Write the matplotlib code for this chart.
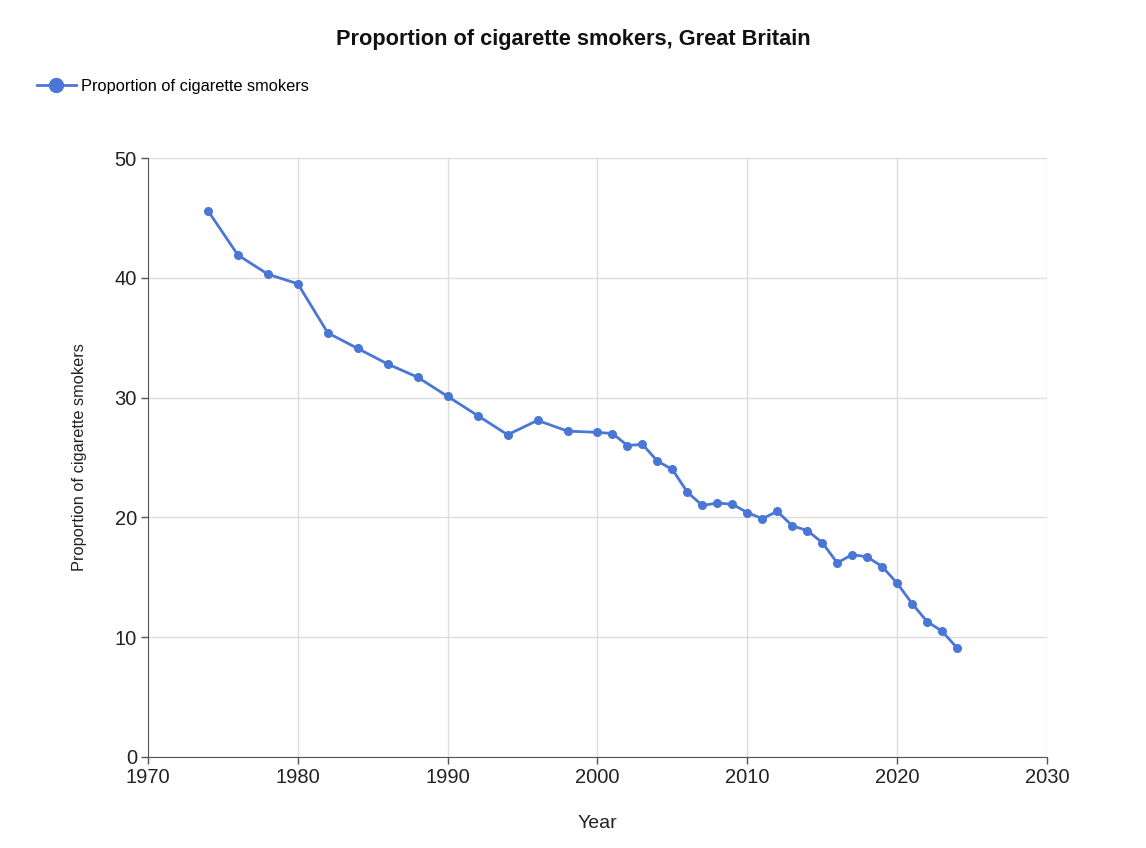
import matplotlib
matplotlib.use('Agg')
import matplotlib.pyplot as plt
from matplotlib.lines import Line2D

plt.rcParams['font.family'] = ['Liberation Sans', 'DejaVu Sans']

years = [1974, 1976, 1978, 1980, 1982, 1984, 1986, 1988, 1990, 1992, 1994,
         1996, 1998, 2000, 2001, 2002, 2003, 2004, 2005, 2006, 2007, 2008,
         2009, 2010, 2011, 2012, 2013, 2014, 2015, 2016, 2017, 2018, 2019,
         2020, 2021, 2022, 2023, 2024]
smokers = [45.6, 41.9, 40.3, 39.5, 35.4, 34.1, 32.8, 31.7, 30.1, 28.5, 26.9,
           28.1, 27.2, 27.1, 27.0, 26.0, 26.1, 24.7, 24.0, 22.1, 21.0, 21.2,
           21.1, 20.4, 19.9, 20.5, 19.3, 18.9, 17.9, 16.2, 16.9, 16.7, 15.9,
           14.5, 12.8, 11.3, 10.5, 9.1]
x_ticks = [1970, 1980, 1990, 2000, 2010, 2020, 2030]
y_ticks = [0, 10, 20, 30, 40, 50]

color = '#4a76d6'
fig = plt.figure(figsize=(11.46, 8.48), dpi=100)
ax = fig.add_axes([148/1146, 91/848, 899/1146, 599/848])

ax.plot(years, smokers, color=color, linewidth=2, marker='o', markersize=5.5,
        clip_on=False, zorder=3)

ax.set_xlim(1970, 2030)
ax.set_ylim(0, 50)
ax.set_xticks(x_ticks)
ax.set_yticks(y_ticks)
ax.grid(True, color='#dddddd', linewidth=1)
ax.set_axisbelow(True)
for s in ['top', 'right']:
    ax.spines[s].set_visible(False)
for s in ['left', 'bottom']:
    ax.spines[s].set_color('#555555')
ax.tick_params(colors='#555555', labelcolor='#222222', labelsize=14.5,
               length=5, width=1, pad=3)

ax.set_xlabel('Year', fontsize=14, color='#222222', labelpad=20)
ax.set_ylabel('Proportion of cigarette smokers', fontsize=11.8,
              color='#222222', labelpad=20)

fig.text(0.5, 1 - 40/848, 'Proportion of cigarette smokers, Great Britain',
         ha='center', va='center', fontsize=15.7, fontweight='bold',
         color='#111111')

handle = Line2D([], [], color=color, linewidth=2, marker='o', markersize=10)
fig.legend([handle], ['Proportion of cigarette smokers'],
           loc='center left', bbox_to_anchor=(22/1146, 1 - 86/848),
           frameon=False, fontsize=11.8, handlelength=2.4, handletextpad=0.3)

fig.savefig('out.png', dpi=100)
